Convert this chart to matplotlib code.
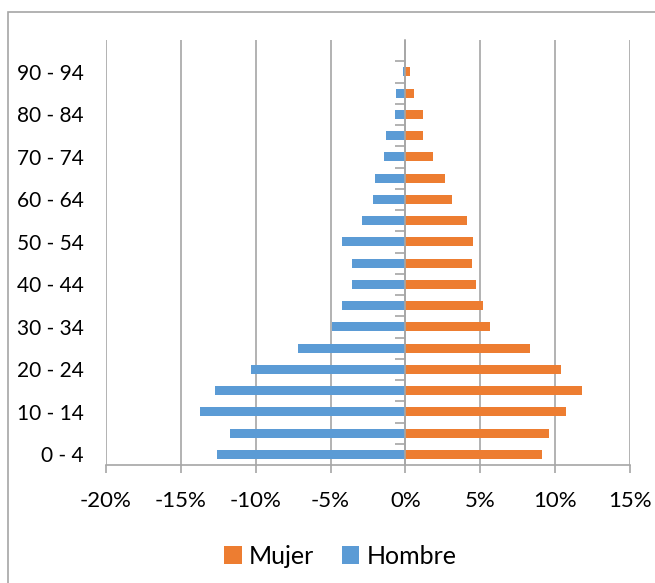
import numpy as np
import matplotlib.pyplot as plt
from matplotlib.patches import Rectangle
from matplotlib.ticker import FuncFormatter

plt.rcParams['font.family'] = ['Lato', 'DejaVu Sans']

ages = ['0 - 4', '5 - 9', '10 - 14', '15 - 19', '20 - 24', '25 - 29', '30 - 34',
        '35 - 39', '40 - 44', '45 - 49', '50 - 54', '55 - 59', '60 - 64',
        '65 - 69', '70 - 74', '75 - 79', '80 - 84', '85 - 89', '90 - 94']
hombre = [-12.58, -11.74, -13.75, -12.70, -10.29, -7.16, -4.92, -4.27, -3.60,
          -3.56, -4.27, -2.91, -2.17, -2.03, -1.43, -1.29, -0.67, -0.60, -0.19]
mujer = [9.09, 9.62, 10.74, 11.81, 10.41, 8.35, 5.68, 5.18, 4.73,
         4.44, 4.49, 4.08, 3.10, 2.67, 1.84, 1.15, 1.15, 0.57, 0.29]
xticks = [-20, -15, -10, -5, 0, 5, 10, 15]

BLUE = '#5B9BD5'
ORANGE = '#ED7D31'
GRID = '#a6a6a6'

fig = plt.figure(figsize=(6.55, 5.83), dpi=100)
fig.patches.append(Rectangle((8 / 655, -0.1), 1.2, 1.1 - 12 / 583,
                             transform=fig.transFigure, fill=False,
                             edgecolor='#a6a6a6', linewidth=1.2))

ax = fig.add_axes([106 / 655, 1 - 465 / 583, 524 / 655, 425 / 583])
y = np.arange(len(ages))
ax.barh(y, mujer, height=0.42, color=ORANGE, label='Mujer', zorder=3)
ax.barh(y, hombre, height=0.42, color=BLUE, label='Hombre', zorder=3)

ax.set_xlim(-20, 15)
ax.set_ylim(-0.5, len(ages) + 0.5)
ax.set_xticks(xticks)
ax.xaxis.set_major_formatter(FuncFormatter(lambda v, p: f'{v:.0f}%'))
ax.grid(axis='x', color=GRID, linewidth=1.2, zorder=0)
ax.tick_params(axis='x', length=6, width=1.2, color=GRID, pad=13, labelsize=16)

ax.set_yticks(y[::2])
ax.set_yticklabels(ages[::2])
ax.tick_params(axis='y', length=0, pad=16, labelsize=15)

for s in ['top', 'right', 'left']:
    ax.spines[s].set_visible(False)
ax.spines['bottom'].set_color(GRID)
ax.spines['bottom'].set_linewidth(1.2)

# category axis at 0 with tick marks between categories
ax2 = ax.twinx()
ax2.set_ylim(ax.get_ylim())
ax2.spines['right'].set_position(('data', 0))
ax2.spines['right'].set_color(GRID)
ax2.spines['right'].set_linewidth(1.2)
for s in ['top', 'left', 'bottom']:
    ax2.spines[s].set_visible(False)
ax2.set_yticks(np.arange(len(ages)) + 0.5)
ax2.set_yticklabels([])
ax2.tick_params(axis='y', direction='in', length=7, width=1.2, color=GRID)
ax2.spines['right'].set_zorder(4)

ax.legend(loc='center', bbox_to_anchor=(0.52, 1 - 556 / 583),
          bbox_transform=fig.transFigure, ncol=2, frameon=False,
          fontsize=18, handlelength=0.7, handleheight=0.7,
          handletextpad=0.3, columnspacing=1.1)

fig.savefig('out.png', dpi=100)
